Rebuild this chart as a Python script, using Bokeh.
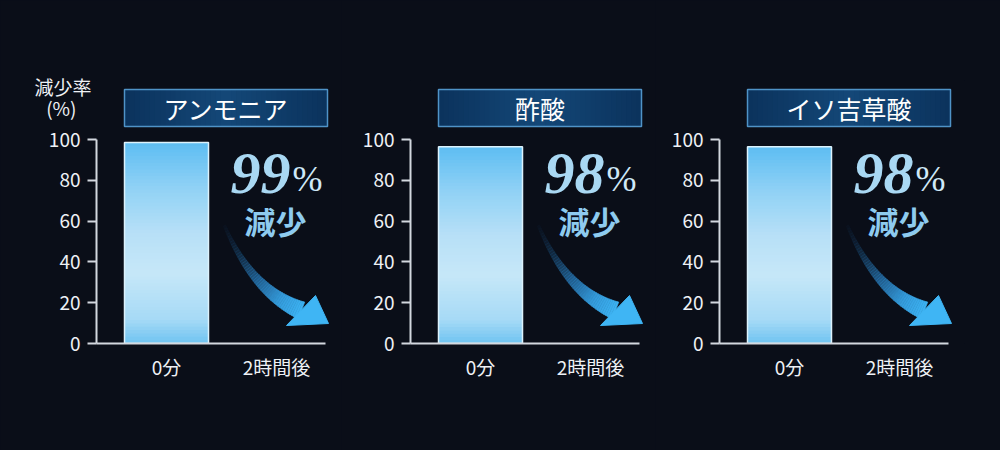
import re
import numpy as np
from bokeh.plotting import figure
from bokeh.layouts import row
from bokeh.models import Range1d, FixedTicker, LinearAxis
from bokeh.core.properties import value
from bokeh.embed import file_html
from bokeh.resources import INLINE

# ---- data ----
titles = ["アンモニア", "酢酸", "イソ吉草酸"]
categories = ["0分", "2時間後"]
before = [98.5, 96.5, 96.5]      # 0分
after = [0, 0, 0]                # 2時間後 (no visible bar)
reduction = ["99", "98", "98"]   # % reduction
y_ticks = [0, 20, 40, 60, 80, 100]
y_title = ["減少率", "(%)"]

# ---- style ----
BG = "#0a0e18"
FONT = "Noto Sans CJK JP"
SERIF = "Liberation Serif"
AXIS_C = "#d3d8df"
TEXT_C = "#eef1f5"
PPX = 110.0
PPY = 2.04
FW = 245
FH = 263
X0 = -70 / PPX
XMAX = X0 + FW / PPX
YMAX = FH / PPY
BW = 84 / PPX


def dx(off):
    return X0 + off / PPX


def dy(h):
    return h / PPY


def hex2rgb(h):
    h = h.lstrip("#")
    return np.array([int(h[i:i + 2], 16) for i in (0, 2, 4)], dtype=float)


def rgb2hex(c):
    return "#%02x%02x%02x" % tuple(int(round(v)) for v in c)


def grad(stops, t):
    for (t0, c0), (t1, c1) in zip(stops[:-1], stops[1:]):
        if t0 <= t <= t1:
            f = (t - t0) / (t1 - t0)
            return rgb2hex(hex2rgb(c0) * (1 - f) + hex2rgb(c1) * f)
    return stops[-1][1]


bar_stops = [(0.0, "#6fc3f1"), (0.12, "#a6daf6"), (0.35, "#c6e7f8"),
             (0.55, "#b7e0f7"), (0.78, "#8fd1f5"), (1.0, "#5dbdf2")]
arrow_stops = [(0.0, "#13263d"), (0.5, "#2a7fbf"), (1.0, "#3db3f3")]
box_stops = [(0.0, "#0b325c"), (0.5, "#144878"), (1.0, "#0b325c")]


def label_axis(p, text, h, standoff):
    ax = LinearAxis(y_range_name="lab", ticker=FixedTicker(ticks=[h]),
                    major_label_overrides={h: text})
    ax.axis_line_color = None
    ax.major_tick_line_color = None
    ax.minor_tick_line_color = None
    ax.major_tick_out = 0
    ax.major_tick_in = 0
    ax.major_label_standoff = standoff
    ax.major_label_text_font = FONT
    ax.major_label_text_font_size = "19px"
    ax.major_label_text_color = TEXT_C
    p.add_layout(ax, "left")


lefts = [96, 69, 64]
rights = [0, 0, 36]
figs = []
for i in range(3):
    p = figure(width=lefts[i] + FW + rights[i], height=450,
               x_range=Range1d(X0, XMAX), y_range=Range1d(0, YMAX),
               output_backend="svg", toolbar_location=None,
               min_border_left=lefts[i], min_border_right=rights[i],
               min_border_top=80, min_border_bottom=107,
               background_fill_color=BG, border_fill_color=BG,
               outline_line_color=None)
    p.xgrid.visible = False
    p.ygrid.visible = False

    ya = p.yaxis[0]
    ya.ticker = FixedTicker(ticks=y_ticks)
    ya.bounds = (0, 100)
    ya.axis_line_color = AXIS_C
    ya.axis_line_width = 2
    ya.major_tick_line_color = AXIS_C
    ya.major_tick_line_width = 2
    ya.major_tick_out = 9
    ya.major_tick_in = 0
    ya.minor_tick_line_color = None
    ya.major_label_text_color = TEXT_C
    ya.major_label_text_font = FONT
    ya.major_label_text_font_size = "19px"
    ya.major_label_standoff = 7

    xa = p.xaxis[0]
    xa.ticker = FixedTicker(ticks=[0, 1])
    xa.major_label_overrides = {0: categories[0], 1: categories[1]}
    xa.bounds = (X0, dx(229))
    xa.axis_line_color = AXIS_C
    xa.axis_line_width = 2
    xa.major_tick_line_color = None
    xa.major_tick_out = 0
    xa.major_tick_in = 0
    xa.minor_tick_line_color = None
    xa.major_label_text_color = TEXT_C
    xa.major_label_text_font = FONT
    xa.major_label_text_font_size = "19px"
    xa.major_label_standoff = 9

    if i == 0:
        # y-axis title, drawn as labels of two invisible outer axes
        p.extra_y_ranges = {"lab": Range1d(0, FH)}
        label_axis(p, y_title[0], 257, -46)
        label_axis(p, y_title[1], 236, -45)

    # gradient bar (0分)
    N = 60
    v = before[i]
    bots = [v * k / N for k in range(N)]
    tops = [min(v, v * (k + 1.6) / N) for k in range(N)]
    cols = [grad(bar_stops, (k + 0.5) / N) for k in range(N)]
    p.vbar(x=[0] * N, bottom=bots, top=tops, width=BW, fill_color=cols,
           line_color=None)
    p.vbar(x=[0], top=[v], width=BW, fill_color=None,
           line_color="#dcf2fc", line_width=1.5)
    # 2時間後 bar
    p.vbar(x=[1], top=[after[i]], width=BW, fill_color="#6fc3f1",
           line_color=None)

    # title box with horizontal gradient
    K = 40
    bl, br = 28.0, 231.0
    lefts_q = [dx(bl + (br - bl) * k / K) for k in range(K)]
    rights_q = [dx(bl + (br - bl) * (k + 1.5) / K) if k < K - 1 else dx(br) for k in range(K)]
    cq = [grad(box_stops, (k + 0.5) / K) for k in range(K)]
    p.quad(left=lefts_q, right=rights_q, bottom=[dy(217)] * K, top=[dy(254)] * K,
           fill_color=cq, line_color=None)
    p.quad(left=[dx(bl)], right=[dx(br)], bottom=[dy(217)], top=[dy(254)],
           fill_color=None, line_color="#4f93c7", line_width=1.5)
    p.text(x=[dx(129.5)], y=[dy(235.5)], text=[titles[i]],
           text_align="center", text_baseline="middle",
           text_font=value(FONT), text_font_size="25px", text_color="#ffffff")

    # arrow (shaft)
    P0 = np.array([128.0, 118.0])
    P1 = np.array([156.0, 52.0])
    P2 = np.array([205.0, 33.0])
    M = 48
    ts = np.linspace(0, 1, M + 1)
    B = [(1 - t) ** 2 * P0 + 2 * (1 - t) * t * P1 + t ** 2 * P2 for t in ts]
    D = [2 * (1 - t) * (P1 - P0) + 2 * t * (P2 - P1) for t in ts]
    Ls, Rs = [], []
    for t, b, d in zip(ts, B, D):
        n = np.array([-d[1], d[0]]) / np.hypot(d[0], d[1])
        w = 1.5 + 7.5 * t ** 1.3
        Ls.append(b + n * w)
        Rs.append(b - n * w)
    xs, ys, fc, fa = [], [], [], []
    for k in range(M):
        quad = [Ls[k], Ls[k + 1], Rs[k + 1], Rs[k]]
        xs.append([dx(q[0]) for q in quad])
        ys.append([dy(q[1]) for q in quad])
        tm = (k + 0.5) / M
        fc.append(grad(arrow_stops, tm))
        fa.append(min(1.0, 0.15 + 1.1 * tm))
    p.patches(xs=xs, ys=ys, fill_color=fc, fill_alpha=fa, line_color=fc,
              line_alpha=fa, line_width=0.6)
    # arrow head
    p.patch(x=[dx(219), dx(232), dx(190)], y=[dy(48), dy(20), dy(18)],
            fill_color="#3fb5f4", line_color="#3fb5f4", line_width=1)

    # big reduction number
    p.text(x=[dx(194)], y=[dy(170)], text=[reduction[i]],
           text_align="right", text_baseline="middle",
           text_font=value(SERIF), text_font_style="bold italic",
           text_font_size="60px", text_color="#a9d8f3")
    p.text(x=[dx(196)], y=[dy(165)], text=["%"],
           text_align="left", text_baseline="middle",
           text_font=value(SERIF), text_font_size="36px",
           text_color="#cfe9f8")
    p.text(x=[dx(179)], y=[dy(123)], text=["減少"],
           text_align="center", text_baseline="middle",
           text_font=value(FONT), text_font_style="bold",
           text_font_size="31px", text_color="#8ecbef")

    figs.append(p)

layout = row(*figs, spacing=0)
html = file_html(layout, INLINE)
html = re.sub(r"<body([^>]*)>", r'<body\1 style="background:#0a0e18;">', html, count=1)
html = html.replace("</head>", "<style>html,body{background:#0a0e18 !important;}</style></head>", 1)
open("out.html", "w").write(html)
